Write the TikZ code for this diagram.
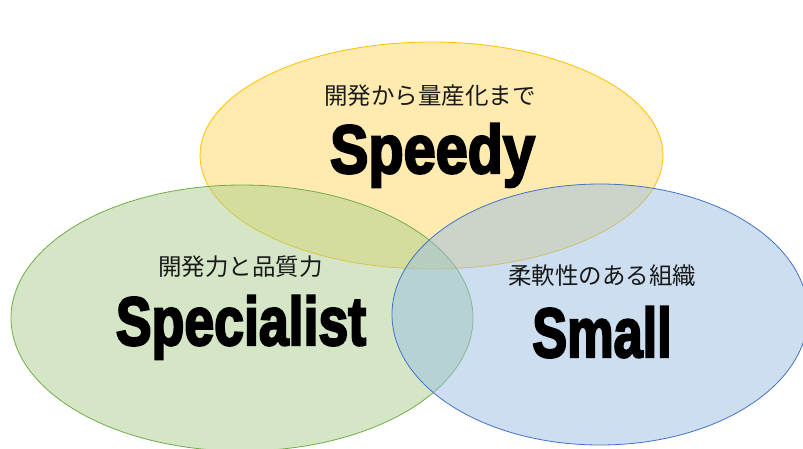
\documentclass[tikz,border=0pt]{standalone}
\usepackage{fontspec}
\newfontfamily\jpfont{Noto Sans CJK JP}
\newfontfamily\impactfont[BoldFeatures={FakeBold=3.5}]{Liberation Sans}
\definecolor{yfill}{RGB}{255,215,97}
\definecolor{gfill}{RGB}{171,207,143}
\definecolor{bfill}{RGB}{155,191,227}
\definecolor{yline}{RGB}{255,192,0}
\definecolor{gline}{RGB}{112,173,71}
\definecolor{bline}{RGB}{68,114,196}
\tikzset{
  venn/.style={line width=0.8pt, fill opacity=0.5, draw opacity=1},
  jptext/.style={font=\jpfont\fontsize{23.5}{26}\selectfont, text=black!90, anchor=base, inner sep=0pt},
  bigword/.style={font=\impactfont\bfseries\fontsize{67}{70}\selectfont, anchor=base, inner sep=0pt}
}
\begin{document}
\begin{tikzpicture}[x=1pt,y=-1pt]
\useasboundingbox (0,0) rectangle (803,448);
\fill[white] (0,0) rectangle (803,448);
\begin{scope}
\clip (0,0) rectangle (803,448);
\draw[venn, draw=yline, fill=yfill] (431.5,155.5) ellipse [x radius=231.5, y radius=113.5];
\draw[venn, draw=gline, fill=gfill] (242,318) ellipse [x radius=231, y radius=133];
\draw[venn, draw=bline, fill=bfill] (600,314.5) ellipse [x radius=208, y radius=130.5];
\end{scope}
\node[jptext] (t1) at (430,104) {開発から量産化まで};
\node[bigword] (w1) at (432.5,173) {\scalebox{0.86}[1.02]{Speedy}};
\node[bigword] (w2) at (241,345) {\scalebox{0.80}[1.02]{Specialist}};
\node[jptext] (t2) at (240.5,275.5) {開発力と品質力};
\node[jptext] (t3) at (602,284.5) {柔軟性のある組織};
\node[bigword] (w3) at (602,357) {\scalebox{0.78}[1.04]{Small}};
\end{tikzpicture}
\end{document}
